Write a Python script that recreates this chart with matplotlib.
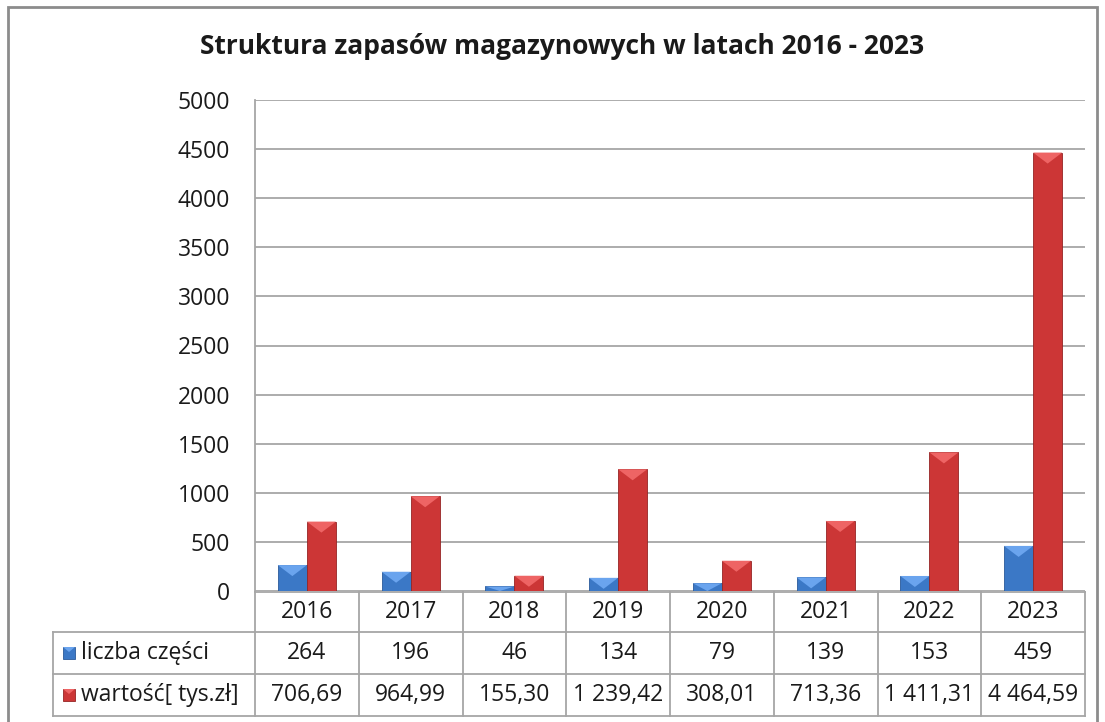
import numpy as np
import matplotlib
matplotlib.use("Agg")
from matplotlib import pyplot as plt
from matplotlib.patches import Rectangle, Polygon
from matplotlib.lines import Line2D
from matplotlib.transforms import blended_transform_factory

# data
years = ["2016", "2017", "2018", "2019", "2020", "2021", "2022", "2023"]
liczba = [264, 196, 46, 134, 79, 139, 153, 459]
wartosc = [706.69, 964.99, 155.30, 1239.42, 308.01, 713.36, 1411.31, 4464.59]
liczba_txt = ["264", "196", "46", "134", "79", "139", "153", "459"]
wartosc_txt = ["706,69", "964,99", "155,30", "1 239,42", "308,01", "713,36", "1 411,31", "4 464,59"]
series_names = ["liczba części", "wartość[ tys.zł]"]
yticks = np.arange(0, 5001, 500)

plt.rcParams["font.family"] = ["Open Sans", "DejaVu Sans"]

W, H = 1105, 722
BLUE, BLUE_TOP, BLUE_EDGE = "#3b78c6", "#6aa4ee", "#2a5a9a"
RED, RED_TOP, RED_EDGE = "#cc3636", "#ee6464", "#962424"
GRID = "#a6a6a6"
TXT = "#1a1a1a"
FS = 16.5


def fx(px):
    return px / W


def fy(py):
    return 1 - py / H


fig = plt.figure(figsize=(W / 100, H / 100), dpi=100)
ax = fig.add_axes([fx(255), fy(591), fx(1085) - fx(255), fy(100) - fy(591)])

x = np.arange(len(years))
bw = 0.28
ax.bar(x - bw / 2, liczba, bw, color=BLUE, edgecolor=BLUE_EDGE, linewidth=0.6, zorder=3)
ax.bar(x + bw / 2, wartosc, bw, color=RED, edgecolor=RED_EDGE, linewidth=0.6, zorder=3)

ax.set_xlim(-0.5, len(years) - 0.5)
ax.set_ylim(0, 5000)
ax.set_yticks(yticks)
ax.set_yticklabels([str(v) for v in yticks], fontsize=FS, color=TXT)
ax.set_xticks([])
ax.tick_params(axis="y", length=0, pad=18)
ax.grid(True, axis="y", color=GRID, linewidth=1.3, zorder=0)
for s in ["top", "right", "bottom"]:
    ax.spines[s].set_visible(False)
ax.spines["left"].set_color(GRID)
ax.spines["left"].set_linewidth(1.3)

# bevel on top of bars
units_per_px = 5000 / (591 - 100)
for xs, vals, top in [(x - bw / 2, liczba, BLUE_TOP), (x + bw / 2, wartosc, RED_TOP)]:
    for xc, v in zip(xs, vals):
        d = min(11, v / units_per_px) * units_per_px
        ax.add_patch(Polygon([(xc - bw / 2, v), (xc + bw / 2, v), (xc, v - d)],
                             closed=True, facecolor=top, edgecolor="none", zorder=4))

# title
fig.text(fx(562), fy(47), "Struktura zapasów magazynowych w latach 2016 - 2023",
         ha="center", va="center", fontsize=19, fontweight="bold", color=TXT)

# data table
tb = blended_transform_factory(ax.transData, fig.transFigure)
rows = [592, 632, 674, 716]
lw = 1.3
edges = np.arange(len(years) + 1) - 0.5
for e in edges:
    fig.add_artist(Line2D([e, e], [fy(rows[0]), fy(rows[-1])], transform=tb, color=GRID, lw=lw))
for r in rows:
    x0 = 255 if r == rows[0] else 53
    fig.add_artist(Line2D([fx(x0), fx(1085)], [fy(r), fy(r)], transform=fig.transFigure,
                          color=GRID, lw=lw))
fig.add_artist(Line2D([fx(53), fx(53)], [fy(rows[1]), fy(rows[-1])], transform=fig.transFigure,
                      color=GRID, lw=lw))

for i, yr in enumerate(years):
    fig.text(i, fy((rows[0] + rows[1]) / 2), yr, transform=tb, ha="center", va="center",
             fontsize=FS, color=TXT)
    fig.text(i, fy((rows[1] + rows[2]) / 2), liczba_txt[i], transform=tb, ha="center",
             va="center", fontsize=FS, color=TXT)
    fig.text(i, fy((rows[2] + rows[3]) / 2), wartosc_txt[i], transform=tb, ha="center",
             va="center", fontsize=FS, color=TXT)

for k, (name, c, ctop, cedge) in enumerate([(series_names[0], BLUE, BLUE_TOP, BLUE_EDGE),
                                           (series_names[1], RED, RED_TOP, RED_EDGE)]):
    yc = (rows[k + 1] + rows[k + 2]) / 2
    fig.add_artist(Rectangle((fx(63), fy(yc + 6)), fx(12), fy(0) - fy(12), transform=fig.transFigure,
                             facecolor=c, edgecolor=cedge, lw=0.6))
    fig.add_artist(Polygon([(fx(63), fy(yc - 6)), (fx(75), fy(yc - 6)), (fx(69), fy(yc - 1))],
                           closed=True, transform=fig.transFigure, facecolor=ctop, edgecolor="none"))
    fig.text(fx(81), fy(yc), name, ha="left", va="center", fontsize=FS, color=TXT)

# outer chart border
fig.add_artist(Rectangle((fx(8), fy(740)), fx(1097) - fx(8), fy(7) - fy(740),
                         transform=fig.transFigure, fill=False, edgecolor="#8c8c8c", lw=2))

fig.savefig("out.png", dpi=100)
